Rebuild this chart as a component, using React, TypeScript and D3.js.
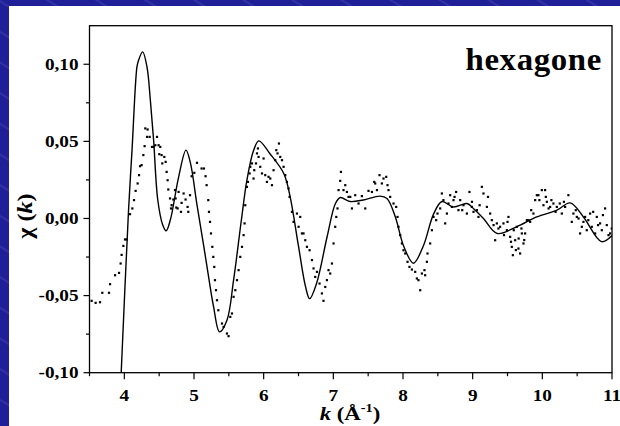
import React from 'react';
import * as d3 from 'd3';

// ---- data ----
const fitK = [3.955, 4.06, 4.11, 4.18, 4.2, 4.263, 4.326, 4.373, 4.42, 4.48, 4.55, 4.6, 4.66, 4.78, 4.885, 4.95, 5.04, 5.14, 5.186, 5.28, 5.367, 5.473, 5.568, 5.68, 5.76, 5.855, 5.93, 6.09, 6.29, 6.38, 6.5, 6.6, 6.66, 6.76, 6.91, 7.03, 7.1, 7.24, 7.43, 7.67, 7.77, 7.89, 8.01, 8.15, 8.29, 8.44, 8.56, 8.72, 8.92, 9.01, 9.155, 9.35, 9.63, 9.92, 10.21, 10.4, 10.59, 10.85, 11.0];
const fitChi = [-0.1, 0.005, 0.044, 0.098, 0.102, 0.108, 0.098, 0.077, 0.051, 0.012, -0.004, -0.008, -0.001, 0.027, 0.0443, 0.0357, 0.0097, -0.018, -0.031, -0.057, -0.0735, -0.066, -0.04, -0.001, 0.025, 0.044, 0.0503, 0.042, 0.029, 0.014, -0.018, -0.044, -0.052, -0.042, -0.012, 0.0097, 0.0136, 0.011, 0.012, 0.0145, 0.013, 0.001, -0.018, -0.029, -0.018, 0.003, 0.011, 0.0075, 0.0097, 0.0065, 0.0, -0.0097, -0.0054, 0.001, 0.0054, 0.0101, 0.001, -0.015, -0.011];

const expK = [3.531,3.588,3.651,3.684,3.780,3.795,3.867,3.924,3.947,3.961,3.986,4.010,4.033,4.082,4.115,4.139,4.162,4.191,4.211,4.225,4.248,4.273,4.291,4.301,4.326,4.334,4.363,4.397,4.420,4.445,4.469,4.492,4.502,4.516,4.535,4.545,4.574,4.593,4.607,4.621,4.631,4.656,4.670,4.679,4.703,4.727,4.736,4.746,4.765,4.779,4.813,4.822,4.851,4.879,4.908,4.918,4.943,4.966,5.004,5.043,5.109,5.143,5.166,5.181,5.205,5.215,5.230,5.244,5.263,5.277,5.291,5.301,5.316,5.330,5.349,5.402,5.425,5.473,5.496,5.521,5.545,5.568,5.593,5.617,5.640,5.664,5.689,5.712,5.726,5.736,5.760,5.775,5.798,5.808,5.832,5.855,5.865,5.890,5.904,5.918,5.927,5.951,5.976,5.999,6.023,6.047,6.070,6.095,6.119,6.142,6.166,6.181,6.199,6.219,6.238,6.263,6.286,6.310,6.334,6.357,6.372,6.406,6.429,6.478,6.501,6.525,6.549,6.572,6.597,6.621,6.659,6.693,6.716,6.740,6.765,6.802,6.836,6.859,6.884,6.908,6.931,6.955,6.980,7.003,7.027,7.042,7.060,7.075,7.099,7.109,7.146,7.171,7.195,7.218,7.243,7.267,7.314,7.362,7.410,7.458,7.505,7.554,7.587,7.601,7.626,7.663,7.697,7.720,7.759,7.778,7.792,7.816,7.864,7.902,7.921,7.935,7.960,7.984,8.007,8.032,8.065,8.093,8.128,8.175,8.199,8.222,8.247,8.271,8.308,8.318,8.343,8.352,8.390,8.415,8.438,8.476,8.495,8.534,8.558,8.605,8.630,8.653,8.677,8.702,8.725,8.763,8.796,8.821,8.868,8.917,8.954,8.988,9.012,9.060,9.083,9.132,9.155,9.204,9.251,9.275,9.323,9.347,9.394,9.442,9.491,9.514,9.538,9.562,9.577,9.610,9.634,9.657,9.681,9.706,9.729,9.753,9.778,9.801,9.825,9.872,9.897,9.921,9.944,9.958,9.993,10.016,10.040,10.065,10.112,10.159,10.208,10.280,10.327,10.374,10.423,10.446,10.495,10.542,10.567,10.614,10.638,10.686,10.710,10.758,10.782,10.829,10.854,10.901,10.925,10.973,10.997,
  8.58,8.74,8.85,8.99,9.10,9.22,9.30,9.37,9.45,9.50,9.55,9.59,9.62,9.66,9.70,9.74,9.84,10.05,10.09,10.13,10.19,10.25,10.31,10.48,10.52,10.59,10.66,10.73,10.80,10.87,10.95];
const expChi = [-0.0534,-0.0547,-0.0543,-0.0482,-0.0482,-0.0426,-0.0368,-0.0353,-0.0292,-0.0236,-0.0178,-0.0136,-0.0136,0.0028,0.0065,0.0119,0.0179,0.0227,0.0281,0.0339,0.0346,0.0411,0.0469,0.0584,0.0529,0.0577,0.0529,0.0464,0.0464,0.0475,0.0529,0.0475,0.0417,0.0464,0.0411,0.0357,0.0399,0.0367,0.0302,0.0248,0.0188,0.0130,0.0065,0.0086,0.0123,0.0184,0.0130,0.0071,0.0065,0.0172,0.0043,0.0101,0.0162,0.0123,0.0075,0.0043,0.0151,0.0274,0.0296,0.0361,0.0324,0.0324,0.0274,0.0216,0.0119,0.0043,-0.0022,-0.0097,-0.0184,-0.0249,-0.0314,-0.0400,-0.0465,-0.0530,-0.0595,-0.0681,-0.0703,-0.0746,-0.0763,-0.0638,-0.0616,-0.0508,-0.0465,-0.0400,-0.0335,-0.0249,-0.0184,-0.0108,-0.0032,0.0086,0.0205,0.0237,0.0292,0.0335,0.0357,0.0259,0.0313,0.0357,0.0422,0.0454,0.0399,0.0335,0.0292,0.0389,0.0281,0.0237,0.0270,0.0259,0.0216,0.0313,0.0378,0.0443,0.0422,0.0486,0.0399,0.0378,0.0335,0.0281,0.0237,0.0195,0.0140,0.0043,-0.0022,0.0032,-0.0054,0.0010,-0.0097,-0.0097,-0.0141,-0.0184,-0.0206,-0.0270,-0.0324,-0.0379,-0.0346,-0.0422,-0.0486,-0.0534,-0.0444,-0.0400,-0.0335,-0.0357,-0.0292,-0.0162,-0.0054,0.0010,0.0065,0.0184,0.0244,0.0302,0.0184,0.0216,0.0172,0.0140,0.0140,0.0065,0.0151,0.0097,0.0145,0.0065,0.0179,0.0172,0.0237,0.0227,0.0184,0.0281,0.0227,0.0259,0.0270,0.0216,0.0184,0.0140,0.0097,0.0075,0.0010,-0.0054,-0.0108,-0.0162,-0.0206,-0.0227,-0.0281,-0.0314,-0.0331,-0.0346,-0.0389,-0.0400,-0.0465,-0.0357,-0.0335,-0.0368,-0.0281,-0.0227,-0.0162,-0.0076,0.0010,-0.0011,0.0032,0.0065,0.0162,-0.0032,0.0032,0.0097,0.0151,0.0075,0.0119,0.0172,0.0054,0.0119,0.0086,0.0032,0.0172,0.0075,0.0043,0.0054,0.0010,0.0205,0.0162,0.0075,0.0032,-0.0011,-0.0141,-0.0032,-0.0054,-0.0032,-0.0076,0.0010,-0.0119,-0.0184,-0.0238,-0.0141,-0.0054,-0.0195,-0.0227,-0.0097,-0.0162,-0.0097,-0.0011,-0.0011,-0.0022,0.0032,0.0119,0.0151,0.0151,0.0119,0.0184,0.0086,0.0184,0.0108,0.0075,0.0097,0.0075,0.0032,0.0075,0.0151,-0.0022,0.0032,0.0010,-0.0097,-0.0054,0.0010,-0.0076,0.0032,-0.0054,-0.0097,0.0010,-0.0032,-0.0076,0.0065,-0.0043,-0.0097,-0.0065,
  0.0119,0.0140,0.0054,0.0108,0.0086,0.0140,-0.0043,-0.0065,-0.0108,-0.0022,-0.0151,-0.0076,-0.0205,-0.0130,-0.0065,-0.0140,0.0054,0.0140,0.0065,0.0119,0.0043,0.0097,0.0108,0.0054,0.0000,-0.0022,-0.0011,0.0043,-0.0043,0.0022,-0.0108];

const xTicks = [4, 5, 6, 7, 8, 9, 10, 11];
const xMinorTicks = [3.5, 4.5, 5.5, 6.5, 7.5, 8.5, 9.5, 10.5];
const yTicks = [-0.1, -0.05, 0, 0.05, 0.1];
const yTickLabels = ['-0,10', '-0,05', '0,00', '0,05', '0,10'];
const yMinorTicks = [-0.075, -0.025, 0.025, 0.075];
const panelLabel = 'hexagone';

// ---- layout ----
const W = 620, H = 426;
const L = 89.5, R = 612, T = 25.7, B = 372.7;
const FONT = "'Liberation Serif', 'Times New Roman', Times, serif";
const tf: React.CSSProperties = { fontFamily: FONT, fontWeight: 'bold' };

export default function App() {
  const x = d3.scaleLinear().domain([3.5, 11]).range([L, R]);
  const y = d3.scaleLinear().domain([-0.1, 0.125]).range([B, T]);
  const line = d3.line<number>()
    .x((_, i) => x(fitK[i]))
    .y((d) => y(d))
    .curve(d3.curveCatmullRom.alpha(0.5));
  const fitPath = line(fitChi) || '';

  return (
    <svg width={W} height={H} style={{ position: 'absolute', left: 0, top: 0, display: 'block' }}>
      <defs>
        <pattern id="stripes" patternUnits="userSpaceOnUse" width="14" height="26" patternTransform="rotate(32)">
          <line x1="0" y1="1" x2="14" y2="1" stroke="#8a8ad6" strokeWidth="0.7" strokeOpacity="0.5" />
        </pattern>
        <clipPath id="plotclip">
          <rect x={L} y={T} width={R - L} height={B - T} />
        </clipPath>
      </defs>
      <rect x={0} y={0} width={W} height={H} fill="#1f1f98" />
      <rect x={0} y={0} width={W} height={H} fill="url(#stripes)" />
      <rect x={9} y={6} width={W - 9} height={H - 6} fill="#ffffff" />

      {/* frame */}
      <rect x={L} y={T} width={R - L} height={B - T} fill="none" stroke="#000" strokeWidth={1.3} />

      {/* y ticks */}
      {yTicks.map((t, i) => (
        <g key={'yt' + i}>
          <line x1={L - 6} x2={L} y1={y(t)} y2={y(t)} stroke="#000" strokeWidth={1.2} />
          <text transform={`translate(${L - 11},${y(t) + 5.5}) scale(1.2,1)`} textAnchor="end"
            fontSize={16} style={tf}>{yTickLabels[i]}</text>
        </g>
      ))}
      {yMinorTicks.map((t, i) => (
        <line key={'ym' + i} x1={L - 3.5} x2={L} y1={y(t)} y2={y(t)} stroke="#000" strokeWidth={1.2} />
      ))}

      {/* x ticks */}
      {xTicks.map((t, i) => (
        <g key={'xt' + i}>
          <line x1={x(t)} x2={x(t)} y1={B} y2={B + 6.5} stroke="#000" strokeWidth={1.2} />
          <text transform={`translate(${x(t)},${B + 28.5}) scale(1.2,1)`} textAnchor="middle"
            fontSize={16} style={tf}>{String(t)}</text>
        </g>
      ))}
      {xMinorTicks.map((t, i) => (
        <line key={'xm' + i} x1={x(t)} x2={x(t)} y1={B} y2={B + 3.5} stroke="#000" strokeWidth={1.2} />
      ))}

      {/* data */}
      <g clipPath="url(#plotclip)">
        <path d={fitPath} fill="none" stroke="#000" strokeWidth={1.4} />
        {expK.map((k, i) => (
          <rect key={'e' + i} x={x(k) - 1.1} y={y(expChi[i]) - 1.1} width={2.2} height={2.2} fill="#000" />
        ))}
      </g>

      {/* panel label */}
      <text transform={`translate(602,70) scale(1.06,1)`} textAnchor="end" fontSize={31} style={tf}
        letterSpacing={0.6}>{panelLabel}</text>

      {/* axis titles */}
      <text transform={`translate(350,420) scale(1.2,1)`} textAnchor="middle" fontSize={19} style={tf}>
        <tspan fontStyle="italic">k</tspan>
        <tspan> (Å</tspan>
        <tspan fontSize={12} dy={-8}>-1</tspan>
        <tspan dy={8}>)</tspan>
      </text>
      <text transform={`translate(32,216) rotate(-90) scale(1.15,1)`} textAnchor="middle" fontSize={21}
        style={tf}>
        <tspan>χ (</tspan>
        <tspan fontStyle="italic">k</tspan>
        <tspan>)</tspan>
      </text>
    </svg>
  );
}
